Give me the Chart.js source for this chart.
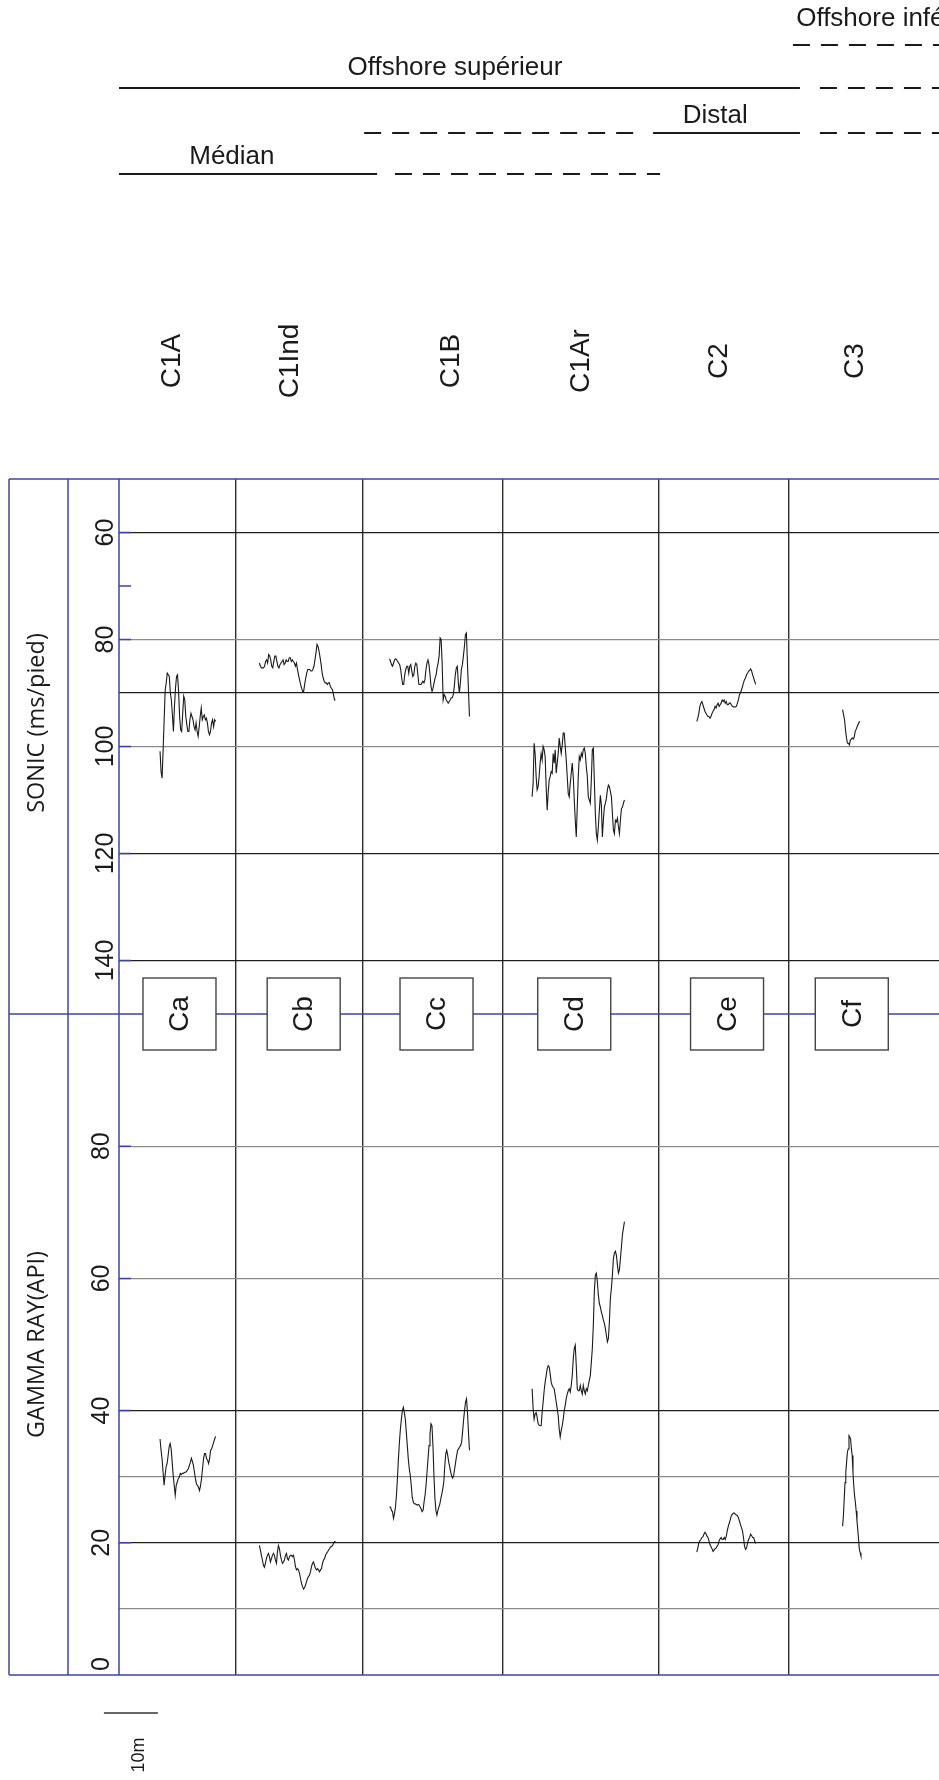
<!DOCTYPE html>
<html>
<head>
<meta charset="utf-8">
<script src="https://cdn.jsdelivr.net/npm/chart.js@4.4.1/dist/chart.umd.min.js"></script>
<style>
  html, body { margin: 0; padding: 0; background: #fff; }
</style>
</head>
<body>
<canvas id="logs" width="939" height="1780"></canvas>
<script>
// depth along the section in metres (scale bar = 10 m)
const facies = ['C1A', 'C1Ind', 'C1B', 'C1Ar', 'C2', 'C3'];
const boxLabels = ['Ca', 'Cb', 'Cc', 'Cd', 'Ce', 'Cf'];
const columnBounds = [21.6, 45.2, 71.1, 99.9, 124.1];
const faciesAt = [9.8, 31.7, 61.5, 85.6, 111.1, 136.3];
const boxAt = [11.2, 34.2, 58.8, 84.3, 112.6, 135.7];
const traceFrom = [7.6, 26.0, 50.1, 76.5, 107.0, 134.0];
const traceTo = [17.9, 40.1, 64.9, 93.6, 117.9, 137.4];

const sonicGrid = [60, 80, 90, 100, 120, 140];
const gammaGrid = [10, 20, 30, 40, 60, 80];
const sonicTickLabels = [60, 80, 100, 120, 140];
const gammaTickLabels = [0, 20, 40, 60, 80];

// depositional environments above the columns
const envNames = ['Offshore inférieur', 'Offshore supérieur', 'Distal', 'Médian'];
const envNameAt = [125.4, 62.2, 110.4, 20.9];
const envSolid = [[], [[0, 126.1]], [[98.9, 126.1]], [[0, 47.8]]];
const envDashed = [[[124.8, 152]], [[129.8, 152]], [[45.4, 96.6], [129.8, 152]], [[51.1, 100.2]]];

// SONIC (ms/pied)
const sonicC1A = [100.9, 104.7, 105.9, 100.6, 95.0, 89.4, 88.1, 86.3, 86.6, 86.9, 90.0, 91.3, 94.1, 97.2, 92.5, 89.1, 86.9, 86.6, 89.7, 94.4, 96.9, 97.2, 93.8, 90.6, 91.3, 94.4, 95.9, 97.2, 97.2, 95.0, 93.8, 94.4, 95.0, 96.3, 96.9, 95.6, 97.2, 98.1, 96.3, 94.4, 92.8, 95.0, 94.4, 94.1, 95.0, 94.7, 95.6, 97.2, 97.8, 97.2, 95.6, 95.0, 96.3, 95.0, 95.3];
const sonicC1Ind = [84.4, 85.0, 85.3, 85.3, 85.3, 85.0, 84.1, 83.8, 84.4, 82.8, 83.1, 83.8, 85.0, 85.3, 84.1, 83.1, 83.1, 84.1, 85.0, 85.3, 84.7, 84.4, 84.1, 83.8, 84.7, 84.4, 83.8, 84.1, 84.1, 83.4, 83.4, 84.1, 83.8, 84.1, 84.4, 85.0, 84.4, 85.6, 86.6, 87.5, 88.4, 89.1, 89.7, 89.7, 88.4, 87.2, 86.3, 85.6, 85.6, 85.6, 85.9, 85.9, 85.6, 85.0, 83.8, 82.5, 80.9, 81.3, 82.2, 83.4, 84.7, 86.3, 87.2, 87.8, 88.1, 88.1, 88.4, 88.1, 88.1, 88.8, 89.1, 89.4, 90.3, 91.3, 91.3];
const sonicC1B = [83.6, 84.1, 84.7, 85.0, 84.4, 83.8, 83.6, 83.8, 84.1, 84.4, 84.7, 85.6, 87.2, 88.4, 88.4, 86.6, 85.6, 85.0, 85.0, 86.3, 85.0, 84.7, 85.9, 86.9, 86.6, 85.0, 84.4, 84.7, 86.6, 88.4, 88.4, 88.4, 88.1, 87.8, 88.1, 87.5, 85.6, 84.4, 83.8, 84.7, 86.6, 88.8, 89.7, 89.1, 88.1, 87.2, 86.6, 85.3, 84.4, 83.1, 79.7, 80.0, 84.4, 91.3, 90.3, 90.6, 91.3, 91.6, 91.9, 91.6, 91.3, 90.9, 90.9, 90.3, 88.8, 86.6, 85.3, 85.0, 88.1, 90.0, 88.1, 85.6, 84.7, 83.1, 81.3, 79.1, 78.8, 84.4, 89.4, 94.4];
const sonicC1Ar = [109.4, 106.9, 99.4, 101.3, 105.6, 108.1, 107.5, 105.6, 103.1, 101.3, 102.5, 100.0, 100.6, 101.9, 107.5, 111.9, 108.8, 106.3, 105.6, 104.7, 105.0, 101.3, 103.1, 100.6, 105.0, 103.1, 101.3, 98.4, 100.0, 101.3, 99.7, 97.5, 97.5, 100.0, 102.5, 105.6, 108.8, 109.4, 106.9, 105.0, 103.1, 105.6, 110.0, 113.8, 116.9, 111.3, 105.6, 101.9, 102.5, 101.3, 101.9, 100.6, 100.3, 101.3, 103.8, 105.6, 109.4, 110.0, 110.6, 106.3, 100.6, 100.3, 106.3, 112.5, 116.3, 117.5, 115.0, 111.9, 109.1, 110.9, 116.9, 113.8, 111.3, 110.6, 109.7, 108.1, 107.2, 107.5, 108.4, 109.4, 112.5, 115.6, 116.3, 113.8, 114.1, 113.4, 115.0, 116.3, 113.8, 111.6, 111.3, 110.6, 110.0];
const sonicC2 = [95.3, 94.7, 93.8, 92.5, 91.9, 91.6, 92.2, 92.8, 93.4, 93.8, 94.1, 94.4, 94.4, 94.7, 94.4, 93.8, 93.4, 93.1, 92.5, 92.8, 92.2, 91.9, 92.5, 92.2, 91.9, 91.3, 91.6, 91.3, 91.9, 91.6, 92.2, 92.2, 91.9, 91.9, 92.2, 92.5, 92.6, 92.6, 92.6, 92.5, 91.9, 91.3, 90.3, 90.0, 89.4, 88.8, 88.1, 87.5, 87.2, 86.6, 86.3, 85.9, 85.8, 85.5, 85.9, 86.6, 87.2, 87.8, 88.4];
const sonicC3 = [93.1, 94.1, 95.0, 96.9, 98.4, 99.4, 99.4, 99.7, 98.8, 98.6, 98.4, 98.6, 98.3, 97.2, 96.8, 96.3, 95.9, 95.5, 95.3, 95.3];

// GAMMA RAY (API)
const gammaC1A = [35.7, 34.0, 32.7, 30.7, 28.7, 30.2, 31.5, 32.0, 33.2, 34.5, 35.0, 34.2, 32.2, 30.2, 28.7, 27.2, 28.7, 29.2, 29.7, 29.9, 30.5, 30.3, 30.5, 30.5, 30.6, 30.7, 30.7, 31.0, 31.2, 31.7, 32.2, 32.8, 32.3, 31.7, 30.7, 29.7, 28.9, 28.7, 28.4, 27.9, 28.6, 29.7, 31.2, 32.7, 33.5, 33.5, 32.7, 32.5, 32.0, 32.7, 34.0, 34.2, 34.7, 35.2, 35.7, 36.1];
const gammaC1Ind = [19.6, 18.9, 18.1, 17.4, 16.6, 16.3, 16.9, 17.6, 18.1, 18.4, 17.9, 17.1, 17.6, 18.1, 18.4, 18.1, 17.4, 16.9, 18.6, 19.6, 19.1, 18.1, 17.4, 16.9, 17.1, 17.4, 18.1, 18.4, 17.6, 17.4, 17.9, 18.1, 18.1, 17.9, 18.1, 17.4, 16.4, 15.9, 16.1, 15.9, 15.4, 14.6, 13.9, 13.4, 13.0, 13.2, 13.6, 14.1, 14.6, 14.9, 15.1, 15.6, 16.4, 16.9, 17.1, 16.6, 16.1, 15.9, 16.1, 15.9, 15.6, 15.9, 16.1, 16.9, 17.4, 17.6, 18.1, 18.4, 18.6, 18.9, 19.1, 19.4, 19.4, 19.6, 19.9, 20.2, 20.2];
const gammaC1B = [25.4, 25.4, 24.9, 24.7, 23.7, 24.4, 25.4, 27.2, 29.7, 32.7, 35.2, 37.2, 38.7, 40.0, 40.5, 39.7, 38.7, 36.7, 34.7, 32.7, 31.2, 30.2, 28.7, 26.9, 26.2, 25.9, 25.9, 25.8, 25.7, 25.8, 25.7, 25.4, 25.1, 24.7, 24.9, 26.2, 27.2, 28.7, 30.7, 32.7, 34.7, 36.5, 38.0, 37.7, 34.7, 30.2, 26.7, 24.9, 24.2, 24.9, 25.4, 25.9, 26.7, 27.4, 28.2, 29.2, 31.7, 33.5, 34.0, 33.2, 32.2, 31.5, 30.7, 30.1, 29.8, 30.2, 31.2, 32.2, 33.2, 34.0, 34.2, 34.5, 34.7, 35.2, 36.7, 38.5, 40.0, 41.3, 41.8, 39.7, 36.7, 34.0];
const gammaC1Ar = [43.3, 40.3, 38.7, 39.5, 39.7, 39.0, 38.0, 37.8, 37.7, 37.7, 39.7, 41.3, 43.0, 44.3, 45.3, 46.3, 46.8, 46.6, 45.6, 44.3, 43.8, 43.5, 43.3, 42.3, 41.3, 40.3, 39.2, 37.2, 36.0, 37.0, 37.7, 38.7, 40.0, 40.8, 41.8, 42.5, 43.0, 43.3, 42.8, 43.8, 45.3, 47.8, 49.4, 49.9, 46.8, 43.3, 43.0, 43.0, 43.8, 43.0, 42.5, 43.8, 43.0, 42.5, 43.3, 43.0, 43.8, 44.6, 45.3, 47.3, 49.4, 52.9, 58.0, 60.5, 60.8, 59.5, 57.5, 56.2, 55.7, 54.9, 54.4, 53.7, 53.2, 52.4, 51.4, 50.4, 50.9, 53.4, 57.0, 58.5, 60.5, 63.0, 63.8, 64.1, 63.5, 62.0, 60.8, 61.3, 63.0, 64.8, 66.6, 67.6, 68.6];
const gammaC2 = [18.6, 19.2, 20.0, 20.3, 20.5, 20.8, 20.9, 21.3, 21.6, 21.4, 21.0, 20.8, 20.3, 19.7, 19.4, 19.1, 18.7, 18.9, 19.1, 19.2, 19.5, 19.7, 20.3, 20.6, 20.8, 20.5, 20.5, 20.8, 20.5, 21.0, 21.8, 22.5, 23.0, 23.5, 24.1, 24.3, 24.5, 24.5, 24.3, 24.2, 24.1, 23.8, 23.3, 22.8, 22.3, 21.8, 20.8, 19.5, 19.0, 19.2, 20.0, 20.5, 20.8, 21.3, 21.1, 20.8, 20.8, 20.3, 19.9];
const gammaC3 = [22.5, 24.1, 26.6, 29.1, 30.6, 32.2, 33.7, 34.2, 36.2, 36.0, 35.7, 34.2, 33.2, 30.6, 28.6, 27.1, 26.1, 24.8, 23.3, 22.0, 20.5, 19.0, 18.5, 18.0];

const sonicTraces = [sonicC1A, sonicC1Ind, sonicC1B, sonicC1Ar, sonicC2, sonicC3];
const gammaTraces = [gammaC1A, gammaC1Ind, gammaC1B, gammaC1Ar, gammaC2, gammaC3];

const BLUE = '#3c46a0';
const INK = '#1a1a1a';
const ARIAL = '"Liberation Sans", Arial, sans-serif';

// spread the samples evenly over the depth interval of each facies
function alongDepth(values, from, to) {
    return values.map((v, i) => ({ x: from + (to - from) * i / (values.length - 1), y: v }));
}

const datasets = [];
facies.forEach((name, i) => {
    datasets.push({
        label: name + ' sonic',
        yAxisID: 'ySonic',
        data: alongDepth(sonicTraces[i], traceFrom[i], traceTo[i]),
        borderColor: INK,
        borderWidth: 1.1,
        pointRadius: 0,
        tension: 0
    });
    datasets.push({
        label: name + ' gamma',
        yAxisID: 'yGamma',
        data: alongDepth(gammaTraces[i], traceFrom[i], traceTo[i]),
        borderColor: INK,
        borderWidth: 1.1,
        pointRadius: 0,
        tension: 0
    });
});

function upText(ctx, text, x, y, font) {
    ctx.save();
    ctx.translate(x, y);
    ctx.rotate(-Math.PI / 2);
    ctx.font = font;
    ctx.fillStyle = INK;
    ctx.textAlign = 'center';
    ctx.textBaseline = 'middle';
    ctx.fillText(text, 0, 0);
    ctx.restore();
}

// frame, labels, boxes, header and scale bar drawn around the plot
const logDecor = {
    id: 'logDecor',
    afterDraw(chart) {
        const { ctx, chartArea: area, scales } = chart;
        const x = scales.x, ySonic = scales.ySonic, yGamma = scales.yGamma;
        const W = chart.width;
        const mid = ySonic.bottom;
        ctx.save();

        // blue frame
        ctx.strokeStyle = BLUE;
        ctx.lineWidth = 1.5;
        ctx.beginPath();
        [area.top, mid, area.bottom].forEach(py => { ctx.moveTo(9, py); ctx.lineTo(W, py); });
        [9, 68, area.left].forEach(px => { ctx.moveTo(px, area.top); ctx.lineTo(px, area.bottom); });
        sonicTickLabels.concat([70]).forEach(v => {
            const py = ySonic.getPixelForValue(v);
            ctx.moveTo(area.left, py); ctx.lineTo(area.left + 12, py);
        });
        gammaTickLabels.slice(1).forEach(v => {
            const py = yGamma.getPixelForValue(v);
            ctx.moveTo(area.left, py); ctx.lineTo(area.left + 12, py);
        });
        ctx.stroke();

        // tick labels
        const tickFont = '25px ' + ARIAL;
        sonicTickLabels.forEach(v => upText(ctx, String(v), 106, ySonic.getPixelForValue(v), tickFont));
        gammaTickLabels.forEach(v => {
            const py = Math.min(yGamma.getPixelForValue(v), area.bottom - 11);
            upText(ctx, String(v), 102, py, tickFont);
        });

        // axis titles
        upText(ctx, 'SONIC (ms/pied)', 37, 723, '23.5px "Open Sans", sans-serif');
        upText(ctx, 'GAMMA RAY(API)', 37, (mid + area.bottom) / 2, '23.5px "Open Sans", sans-serif');

        // boxed labels on the divider
        boxLabels.forEach((t, i) => {
            const cx = x.getPixelForValue(boxAt[i]);
            ctx.fillStyle = '#fff';
            ctx.fillRect(cx - 36.5, mid - 36, 73, 72);
            ctx.strokeStyle = '#444';
            ctx.lineWidth = 1.4;
            ctx.strokeRect(cx - 36.5, mid - 36, 73, 72);
            upText(ctx, t, cx + 1, mid, '28px ' + ARIAL);
        });

        // facies names
        facies.forEach((t, i) => upText(ctx, t, x.getPixelForValue(faciesAt[i]), 361, '28px ' + ARIAL));

        // environments
        const rowLine = [45, 88, 133, 174];
        const rowText = [19, 68, 116, 157];
        ctx.strokeStyle = INK;
        ctx.lineWidth = 2;
        envNames.forEach((name, i) => {
            ctx.setLineDash([]);
            ctx.beginPath();
            envSolid[i].forEach(([a, b]) => { ctx.moveTo(x.getPixelForValue(a), rowLine[i]); ctx.lineTo(x.getPixelForValue(b), rowLine[i]); });
            ctx.stroke();
            ctx.setLineDash([17, 11]);
            ctx.beginPath();
            envDashed[i].forEach(([a, b]) => { ctx.moveTo(x.getPixelForValue(a), rowLine[i]); ctx.lineTo(x.getPixelForValue(b), rowLine[i]); });
            ctx.stroke();
            ctx.font = '26px ' + ARIAL;
            ctx.fillStyle = INK;
            ctx.textAlign = i === 0 ? 'left' : 'center';
            ctx.textBaseline = 'middle';
            ctx.fillText(name, x.getPixelForValue(envNameAt[i]), rowText[i]);
        });
        ctx.setLineDash([]);

        // 10 m scale bar
        const b0 = x.getPixelForValue(-2.8), b1 = x.getPixelForValue(7.2);
        ctx.strokeStyle = '#333';
        ctx.lineWidth = 1.3;
        ctx.beginPath();
        ctx.moveTo(b0, 1713); ctx.lineTo(b1, 1713);
        ctx.stroke();
        upText(ctx, '10m', (b0 + b1) / 2 + 8, 1755, '18px ' + ARIAL);

        ctx.restore();
    }
};

const darkSonic = [60, 90, 120, 140];
const darkGamma = [20, 40];

new Chart(document.getElementById('logs'), {
    type: 'line',
    data: { datasets },
    options: {
        responsive: false,
        animation: false,
        devicePixelRatio: 1,
        layout: { padding: { top: 479, left: 119, right: 0, bottom: 105 } },
        plugins: { legend: { display: false }, tooltip: { enabled: false } },
        scales: {
            x: {
                type: 'linear',
                min: 0,
                max: 151.85,
                afterBuildTicks: s => { s.ticks = columnBounds.map(v => ({ value: v })); },
                ticks: { display: false },
                grid: { color: '#2e2e2e', lineWidth: 1.4, drawTicks: false },
                border: { display: false }
            },
            yGamma: {
                type: 'linear',
                position: 'left',
                stack: 'logs',
                stackWeight: 661,
                min: 0,
                max: 100,
                afterBuildTicks: s => { s.ticks = gammaGrid.map(v => ({ value: v })); },
                ticks: { display: false },
                grid: {
                    drawTicks: false,
                    lineWidth: 1.2,
                    color: c => (c.tick && darkGamma.includes(c.tick.value)) ? '#1e1e1e' : '#8a8a8a'
                },
                border: { display: false }
            },
            ySonic: {
                type: 'linear',
                position: 'left',
                stack: 'logs',
                stackWeight: 535,
                reverse: true,
                min: 50,
                max: 150,
                afterBuildTicks: s => { s.ticks = sonicGrid.map(v => ({ value: v })); },
                ticks: { display: false },
                grid: {
                    drawTicks: false,
                    lineWidth: 1.2,
                    color: c => (c.tick && darkSonic.includes(c.tick.value)) ? '#1e1e1e' : '#8a8a8a'
                },
                border: { display: false }
            }
        }
    },
    plugins: [logDecor]
});
</script>
</body>
</html>
